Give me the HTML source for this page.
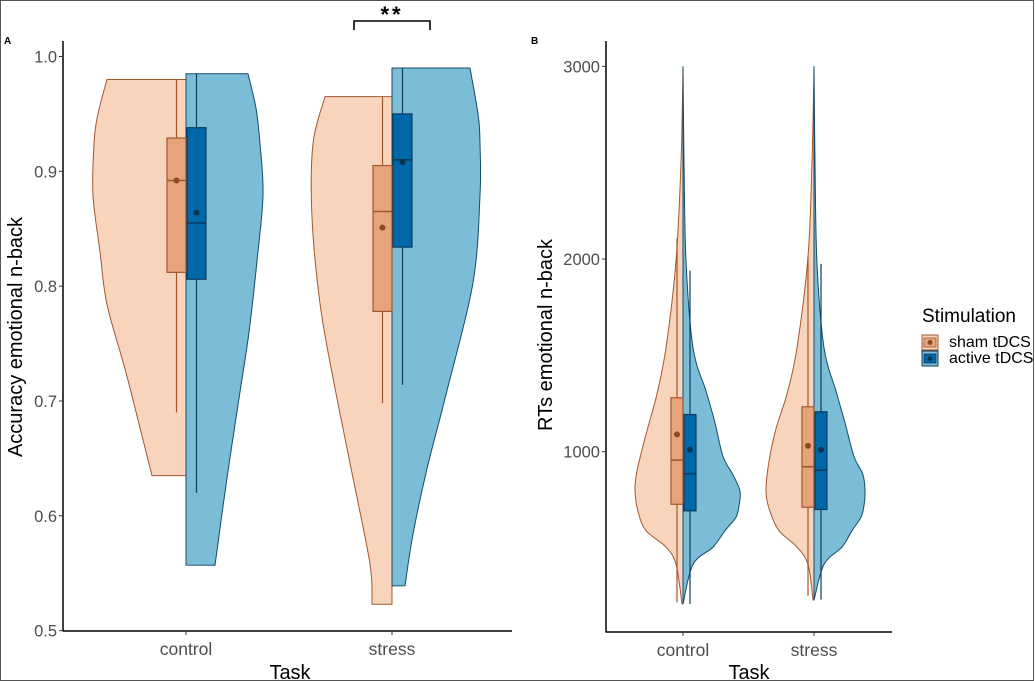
<!DOCTYPE html>
<html><head><meta charset="utf-8"><style>
html,body{margin:0;padding:0;background:#fff}
svg{display:block}
text{font-family:"Liberation Sans",Arial,sans-serif}
</style></head><body>
<svg id="chart" width="1035" height="681" viewBox="0 0 1035 681" xmlns="http://www.w3.org/2000/svg">
<rect x="0.5" y="0.5" width="1033" height="680" fill="#fff" stroke="#555" stroke-width="1"/>
<g id="pa"></g>
<g id="pb"></g>
<g id="legend"></g>
</svg>
<script>
const NS="http://www.w3.org/2000/svg";
// ---- data ----
const categories=["control","stress"];
const seriesNames=["sham tDCS","active tDCS"];
// Panel A violin profiles: [value, half-width]
const violinA_sham_control=[[0.98,79],[0.95,88],[0.924,92],[0.879,93],[0.83,86],[0.784,79],[0.728,61],[0.68,47],[0.635,34]];
const violinA_active_control=[[0.985,62],[0.955,70],[0.924,74],[0.879,77],[0.822,71],[0.76,63],[0.708,54],[0.633,41],[0.557,29]];
const violinA_sham_stress=[[0.965,67],[0.924,79],[0.86,80],[0.785,72],[0.72,59],[0.633,39],[0.558,22],[0.523,20]];
const violinA_active_stress=[[0.99,78],[0.95,86],[0.924,88],[0.879,88],[0.803,81],[0.709,55],[0.641,35],[0.584,21],[0.539,13]];
// Panel A box stats: [q1, median, q3, whiskerLow, whiskerHigh, mean]
const boxA_sham=[[0.812,0.892,0.929,0.69,0.98,0.892],[0.778,0.865,0.905,0.698,0.965,0.851]];
const boxA_active=[[0.806,0.855,0.938,0.62,0.985,0.864],[0.834,0.91,0.95,0.714,0.99,0.908]];
const ticksA=[0.5,0.6,0.7,0.8,0.9,1.0];
const tickLabelsA=["0.5","0.6","0.7","0.8","0.9","1.0"];
// Panel B violin profiles
const violinB_sham_control=[[3000,0],[2500,2],[1990,7],[1540,17],[1300,26],[1090,37],[900,46],[795,48],[690,45],[590,37],[505,17],[415,7],[210,1]];
const violinB_active_control=[[3000,0],[2500,1],[1990,3],[1540,10],[1315,23],[1150,32],[975,40],[880,50],[795,57],[720,56],[660,53],[590,42],[505,30],[415,10],[210,0]];
const violinB_sham_stress=[[3000,0],[2500,2],[2013,6],[1540,17],[1300,27],[1120,38],[950,45],[795,48],[690,44],[590,35],[505,17],[415,6],[230,1]];
const violinB_active_stress=[[3000,0],[2500,1],[1975,3],[1540,10],[1315,22],[1150,31],[975,40],[880,49],[795,51],[720,50],[660,47],[590,38],[505,28],[415,10],[230,0]];
const boxB_sham=[[727,956,1280,218,2107,1090],[712,922,1233,252,2013,1030]];
const boxB_active=[[693,886,1193,210,1940,1010],[700,904,1207,232,1975,1010]];
const ticksB=[1000,2000,3000];
const tickLabelsB=["1000","2000","3000"];

// ---- colors ----
const C={shamV:"#f8d4bc",shamVS:"#a0582e",shamB:"#e5a47a",shamBS:"#a0582e",shamDot:"#8a4a22",
actV:"#7bbdd7",actVS:"#154a6a",actB:"#0068a8",actBS:"#0c3c5c",actDot:"#0b3450"};

function el(parent,tag,attrs,name,inter){const e=document.createElementNS(NS,tag);for(const k in attrs)e.setAttribute(k,attrs[k]);


parent.appendChild(e);return e;}

// axis functions
const yA=v=>630.6-(v-0.5)*(630.6-56.5)/0.5;
const xA=i=>[186,392][i];
const yB=v=>451.7-(v-1000)*(451.7-66.4)/2000;
const xB=i=>[683,814][i];

function smoothPath(pts){
  let d="";
  for(let i=0;i<pts.length-1;i++){
    const p0=pts[Math.max(0,i-1)],p1=pts[i],p2=pts[i+1],p3=pts[Math.min(pts.length-1,i+2)];
    const c1=[p1[0]+(p2[0]-p0[0])/6,p1[1]+(p2[1]-p0[1])/6];
    const c2=[p2[0]-(p3[0]-p1[0])/6,p2[1]-(p3[1]-p1[1])/6];
    d+=` C${c1[0].toFixed(1)},${c1[1].toFixed(1)} ${c2[0].toFixed(1)},${c2[1].toFixed(1)} ${p2[0].toFixed(1)},${p2[1].toFixed(1)}`;
  }
  return d;
}
function violin(g,prof,cx,yf,side,fill,stroke,name){
  const pts=prof.map(p=>[cx+side*p[1],yf(p[0])]);
  let d=`M${cx},${yf(prof[0][0])} L${pts[0][0]},${pts[0][1]}`+smoothPath(pts)+` L${cx},${yf(prof[prof.length-1][0])} Z`;
  el(g,'path',{d:d,fill:fill,stroke:stroke,'stroke-width':1},name,false);
}
function box(g,s,x0,w,yf,fill,stroke,dot,name){
  const xm=x0+w/2;
  el(g,'line',{x1:xm,x2:xm,y1:yf(s[4]),y2:yf(s[3]),stroke:stroke,'stroke-width':1.2},name+'-whisker',false);
  el(g,'rect',{x:x0,y:yf(s[2]),width:w,height:yf(s[0])-yf(s[2]),fill:fill,stroke:stroke,'stroke-width':1.2},name+'-box',false);
  el(g,'line',{x1:x0,x2:x0+w,y1:yf(s[1]),y2:yf(s[1]),stroke:stroke,'stroke-width':1.6},name+'-median',false);
  el(g,'circle',{cx:xm,cy:yf(s[5]),r:3,fill:dot},name+'-mean',false);
}
function axes(g,ox,xEnd,yTop,yBot,ticks,labels,yf,cx,ytitle,ytx,ytitleY,taskX,panelLabel,plx){
  el(g,'line',{x1:ox,x2:ox,y1:yTop,y2:yBot+0.5,stroke:'#000','stroke-width':1.5},'y-axis-line',false);
  el(g,'line',{x1:ox,x2:xEnd,y1:yBot,y2:yBot,stroke:'#000','stroke-width':1.5},'x-axis-line',false);
  ticks.forEach((t,i)=>{
    el(g,'line',{x1:ox-4,x2:ox,y1:yf(t),y2:yf(t),stroke:'#333','stroke-width':1},'y-tick',false);
    const tx=el(g,'text',{x:ox-6,y:yf(t)+6,'text-anchor':'end','font-size':16.5,fill:'#4d4d4d'},'y-tick-label',false);tx.textContent=labels[i];
  });
  categories.forEach((c,i)=>{
    el(g,'line',{x1:cx(i),x2:cx(i),y1:yBot,y2:yBot+4,stroke:'#333','stroke-width':1},'x-tick',false);
    const tx=el(g,'text',{x:cx(i),y:yBot+24,'text-anchor':'middle','font-size':17.5,fill:'#4d4d4d'},'x-tick-label',false);tx.textContent=c;
  });
  const yt=el(g,'text',{x:0,y:0,transform:`translate(${ytx},${ytitleY}) rotate(-90)`,'text-anchor':'middle','font-size':20,fill:'#000'},'y-axis-title',false);yt.textContent=ytitle;
  const xt=el(g,'text',{x:taskX,y:679,'text-anchor':'middle','font-size':20,fill:'#000'},'x-axis-title',false);xt.textContent="Task";
  const pl=el(g,'text',{x:plx,y:44,'font-size':10,'font-weight':'bold',fill:'#000'},'panel-label',false);pl.textContent=panelLabel;
}

// Panel A
const pa=document.getElementById('pa');
const vA_sham=[violinA_sham_control,violinA_sham_stress],vA_act=[violinA_active_control,violinA_active_stress];
categories.forEach((c,i)=>{
  violin(pa,vA_sham[i],xA(i),yA,-1,C.shamV,C.shamVS,'violin-sham-'+c);
  violin(pa,vA_act[i],xA(i),yA,1,C.actV,C.actVS,'violin-active-'+c);
  box(pa,boxA_sham[i],xA(i)-19,19,yA,C.shamB,C.shamBS,C.shamDot,'sham-'+c);
  box(pa,boxA_active[i],xA(i)+1,19,yA,C.actB,C.actBS,C.actDot,'active-'+c);
});
axes(pa,63,512,41,631,ticksA,tickLabelsA,yA,xA,"Accuracy emotional n-back",22,337,290,"A",4);
el(pa,'path',{d:'M354,30 L354,21 L430,21 L430,30',fill:'none',stroke:'#000','stroke-width':1.6},'significance-bracket',false);
const st=el(pa,'text',{x:392,y:22,'text-anchor':'middle','font-size':22,'font-weight':'bold','letter-spacing':'3',fill:'#000'},'significance-stars',false);st.textContent="**";

// Panel B
const pb=document.getElementById('pb');
const vB_sham=[violinB_sham_control,violinB_sham_stress],vB_act=[violinB_active_control,violinB_active_stress];
categories.forEach((c,i)=>{
  violin(pb,vB_sham[i],xB(i),yB,-1,C.shamV,C.shamVS,'violin-sham-'+c);
  violin(pb,vB_act[i],xB(i),yB,1,C.actV,C.actVS,'violin-active-'+c);
  box(pb,boxB_sham[i],xB(i)-12,12,yB,C.shamB,C.shamBS,C.shamDot,'sham-'+c);
  box(pb,boxB_active[i],xB(i)+1,12,yB,C.actB,C.actBS,C.actDot,'active-'+c);
});
axes(pb,606,892,41,632,ticksB,tickLabelsB,yB,xB,"RTs emotional n-back",552,335,749,"B",531);

// Legend
const lg=document.getElementById('legend');
const lt=el(lg,'text',{x:922,y:322,'font-size':19,fill:'#000'},'legend-title',false);lt.textContent="Stimulation";
[[C.shamV,C.shamB,C.shamBS,C.shamDot],[C.actV,C.actB,C.actBS,C.actDot]].forEach((k,i)=>{
  const y0=335+i*16;
  const g=el(lg,'g',{},'legend-entry-'+(i?'active':'sham'),false);
  el(g,'rect',{x:922,y:y0,width:16,height:15,fill:k[0],stroke:k[2],'stroke-width':1},'legend-key',false);
  el(g,'rect',{x:924,y:y0+3,width:12,height:9,fill:k[1],stroke:k[2],'stroke-width':0.8},'legend-key-box',false);
  el(g,'circle',{cx:930,cy:y0+7.5,r:2.5,fill:k[3]},'legend-key-dot',false);
  const t=el(g,'text',{x:949,y:y0+12,'font-size':16,fill:'#000'},'legend-label',false);t.textContent=seriesNames[i];
});
</script>
</body></html>
